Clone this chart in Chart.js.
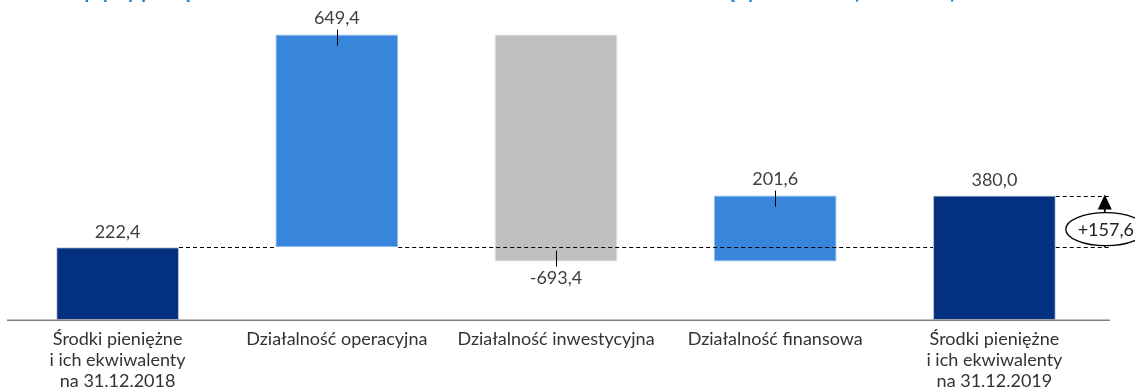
<!DOCTYPE html>
<html lang="pl">
<head>
<meta charset="utf-8">
<script src="https://cdn.jsdelivr.net/npm/chart.js@4.4.1/dist/chart.umd.min.js"></script>
<style>
  html, body { margin: 0; padding: 0; background: #ffffff; }
  #wrap { position: relative; width: 1135px; height: 389px; overflow: hidden; }
</style>
</head>
<body>
<div id="wrap"><canvas id="c" width="1135" height="389"></canvas></div>
<script>
// Waterfall: opening cash, three cash-flow streams, closing cash (mln PLN)
const categories = [
  ['Środki pieniężne', 'i ich ekwiwalenty', 'na 31.12.2018'],
  'Działalność operacyjna',
  'Działalność inwestycyjna',
  'Działalność finansowa',
  ['Środki pieniężne', 'i ich ekwiwalenty', 'na 31.12.2019']
];
const openingBalance = 222.4;
const flows = [649.4, -693.4, 201.6];
const closingBalance = 380.0;
const barColors = ['#03307f', '#3786dc', '#bfbfbf', '#3786dc', '#03307f'];
const barEdges = ['#b9c3d8', '#8fbcee', '#dcdcdc', '#8fbcee', '#b9c3d8'];
const titleText = 'Przepływy pieniężne netto oraz zmiana stanu środków w okresie dwunastu miesięcy 2019 roku (w mln PLN)';

// floating ranges for each bar
const ranges = [[0, openingBalance]];
let level = openingBalance;
flows.forEach(f => { ranges.push([level, level + f]); level += f; });
ranges.push([0, closingBalance]);
const values = [openingBalance, ...flows, closingBalance];

const fmt = v => v.toFixed(1).replace('.', ',');
const FONT = 'Lato, "Open Sans", sans-serif';

const waterfallDecor = {
  id: 'waterfallDecor',
  afterDatasetsDraw(chart) {
    const ctx = chart.ctx;
    const area = chart.chartArea;
    const y = chart.scales.y;
    const els = chart.getDatasetMeta(0).data;
    const left = el => el.x - el.width / 2;
    const right = el => el.x + el.width / 2;
    const yRef = y.getPixelForValue(openingBalance);
    const yEnd = y.getPixelForValue(closingBalance);
    const last = els[els.length - 1];
    const tailX = right(last) + 56;

    ctx.save();
    // category axis line
    ctx.strokeStyle = '#808080';
    ctx.lineWidth = 1.5;
    ctx.beginPath();
    ctx.moveTo(area.left - 1, area.bottom + 0.25);
    ctx.lineTo(area.right + 6, area.bottom + 0.25);
    ctx.stroke();

    // dashed reference lines
    ctx.strokeStyle = '#000000';
    ctx.lineWidth = 1;
    ctx.setLineDash([4, 3]);
    const hline = (x1, x2, yy) => {
      ctx.beginPath();
      ctx.moveTo(x1, Math.round(yy) + 0.5);
      ctx.lineTo(x2, Math.round(yy) + 0.5);
      ctx.stroke();
    };
    hline(right(els[0]), left(els[1]), yRef);
    hline(right(els[1]), left(last), yRef);
    hline(right(last), tailX, yRef);
    hline(right(last), tailX, yEnd);
    ctx.setLineDash([]);

    // value labels with leader ticks
    ctx.font = '18px ' + FONT;
    ctx.fillStyle = '#404040';
    ctx.textAlign = 'center';
    ctx.textBaseline = 'middle';
    els.forEach((el, i) => {
      const top = Math.min(el.y, el.base);
      const bottom = Math.max(el.y, el.base);
      const isFlow = i > 0 && i < els.length - 1;
      const v = values[i];
      const lx = Math.round(el.x) + 0.5;
      if (v >= 0) {
        ctx.fillText(fmt(v), el.x, top - (isFlow ? 16 : 15));
        if (isFlow) {
          ctx.beginPath();
          ctx.moveTo(lx, top - 5);
          ctx.lineTo(lx, top + 11);
          ctx.strokeStyle = '#000000';
          ctx.lineWidth = 1;
          ctx.stroke();
        }
      } else {
        ctx.fillText(fmt(v), el.x, bottom + 17);
        ctx.beginPath();
        ctx.moveTo(lx, bottom - 11);
        ctx.lineTo(lx, bottom + 5);
        ctx.strokeStyle = '#000000';
        ctx.lineWidth = 1;
        ctx.stroke();
      }
    });

    // change arrow with encircled difference
    const ax = tailX - 7;
    ctx.strokeStyle = '#000000';
    ctx.fillStyle = '#000000';
    ctx.lineWidth = 1.8;
    ctx.beginPath();
    ctx.moveTo(ax, yRef);
    ctx.lineTo(ax, yEnd + 10);
    ctx.stroke();
    ctx.beginPath();
    ctx.moveTo(ax, yEnd - 1);
    ctx.lineTo(ax - 7, yEnd + 14);
    ctx.lineTo(ax + 7, yEnd + 14);
    ctx.closePath();
    ctx.fill();

    const cy = yRef - 18;
    ctx.beginPath();
    ctx.ellipse(ax + 1, cy, 40, 16.5, 0, 0, Math.PI * 2);
    ctx.fillStyle = '#ffffff';
    ctx.fill();
    ctx.lineWidth = 1.3;
    ctx.stroke();
    ctx.fillStyle = '#222222';
    ctx.font = '18px ' + FONT;
    const diff = closingBalance - openingBalance;
    ctx.fillText('+' + fmt(diff), ax + 1, cy + 1);

    // heading (sits above the top edge)
    ctx.font = 'bold 19px ' + FONT;
    ctx.fillStyle = '#1a7dc8';
    ctx.textAlign = 'left';
    ctx.textBaseline = 'alphabetic';
    ctx.fillText(titleText, 47, -1);
    ctx.restore();
  }
};

new Chart(document.getElementById('c'), {
  type: 'bar',
  data: {
    labels: categories,
    datasets: [{
      data: ranges,
      backgroundColor: barColors,
      borderColor: barEdges,
      borderWidth: 1,
      borderSkipped: false,
      barPercentage: 0.56,
      categoryPercentage: 1.0
    }]
  },
  options: {
    responsive: false,
    animation: false,
    devicePixelRatio: 1,
    layout: { padding: { top: 9, left: 8, right: 31, bottom: 0 } },
    plugins: { legend: { display: false }, tooltip: { enabled: false }, title: { display: false } },
    scales: {
      x: {
        grid: { display: false, drawTicks: false },
        border: { display: false },
        ticks: {
          font: { family: FONT, size: 18, lineHeight: 1.17 },
          color: '#333333',
          padding: 9,
          maxRotation: 0,
          autoSkip: false
        },
        afterFit(scale) { scale.height = 69; }
      },
      y: { display: false, min: 0, max: 950 }
    }
  },
  plugins: [waterfallDecor]
});
</script>
</body>
</html>
